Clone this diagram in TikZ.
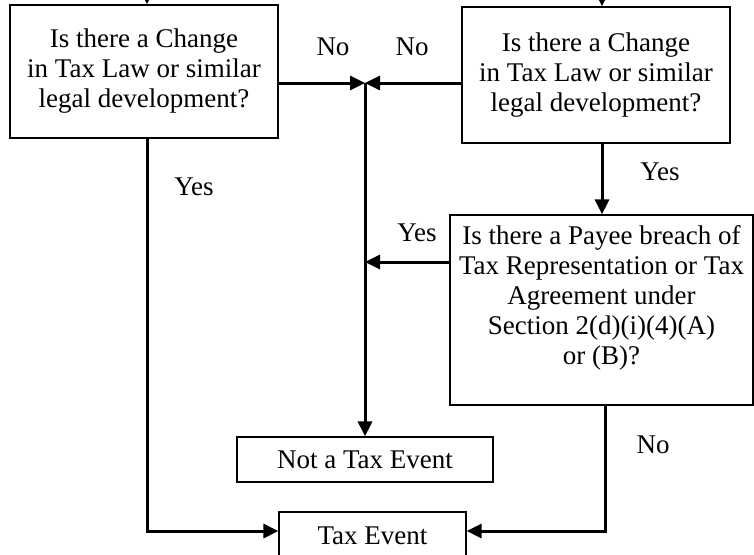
\documentclass[tikz,border=0pt]{standalone}
\usepackage{fontspec}
\setmainfont{Liberation Serif}
\usepackage{tikz}
\usetikzlibrary{arrows.meta,positioning}

\begin{document}
\begin{tikzpicture}[x=1pt,y=-1pt,>={Triangle[length=15pt,width=14pt]},
                    font=\fontsize{27}{30}\selectfont]
  \tikzset{qbox/.style={draw,line width=1.2pt,inner sep=0pt,align=center},
           qtext/.style={align=center,inner sep=0pt},
           flow/.style={line width=3pt,->},
           line/.style={line width=3pt}}
  \useasboundingbox (0,0) rectangle (754,554);

  \node[qbox,minimum width=268pt,minimum height=133pt] (lawA) at (144,71.5)
       {Is there a Change\\in Tax Law or similar\\legal development?};
  \node[qbox,minimum width=268pt,minimum height=136pt] (lawB) at (596,75)
       {Is there a Change\\in Tax Law or similar\\legal development?};
  \node[qbox,minimum width=303pt,minimum height=190pt] (breach) at (601.5,310) {};
  \node[qtext,below=11pt of breach.north] (breachtxt)
       {Is there a Payee breach of\\Tax Representation or Tax\\Agreement under\\Section 2(d)(i)(4)(A)\\or (B)?};
  \node[qbox,minimum width=256pt,minimum height=45pt] (notev) at (365,459.5) {Not a Tax Event};
  \node[qbox,minimum width=187pt,minimum height=48pt] (taxev) at (372.5,536) {Tax Event};

  \coordinate (inA) at (147,-2);
  \coordinate (inB) at (602,-2);
  \coordinate (j1) at (365,83);
  \coordinate (j2) at (365,262);
  \coordinate (outB) at (605,0);
  \coordinate (lowrow) at (0,531);

  \draw[flow] (inA) -- (inA |- lawA.north);
  \draw[flow] (inB) -- (inB |- lawB.north);
  \draw[flow] (lawA.east |- j1) -- (j1);
  \draw[flow] (lawB.west |- j1) -- (j1);
  \draw[line] (j1) -- (j2);
  \draw[flow] (j2) -- (notev.north);
  \draw[flow] (breach.west |- j2) -- (j2);
  \draw[flow] (inB |- lawB.south) -- (inB |- breach.north);
  \draw[flow] (inA |- lawA.south) |- (taxev.west |- lowrow);
  \draw[flow] (outB |- breach.south) |- (taxev.east |- lowrow);

  \node (noA) at (333,47) {No};
  \node (noB) at (412,47) {No};
  \node (yesA) at (194,187) {Yes};
  \node (yesB) at (660,172) {Yes};
  \node (yesC) at (417,233) {Yes};
  \node (noC) at (653,445) {No};
\end{tikzpicture}
\end{document}
